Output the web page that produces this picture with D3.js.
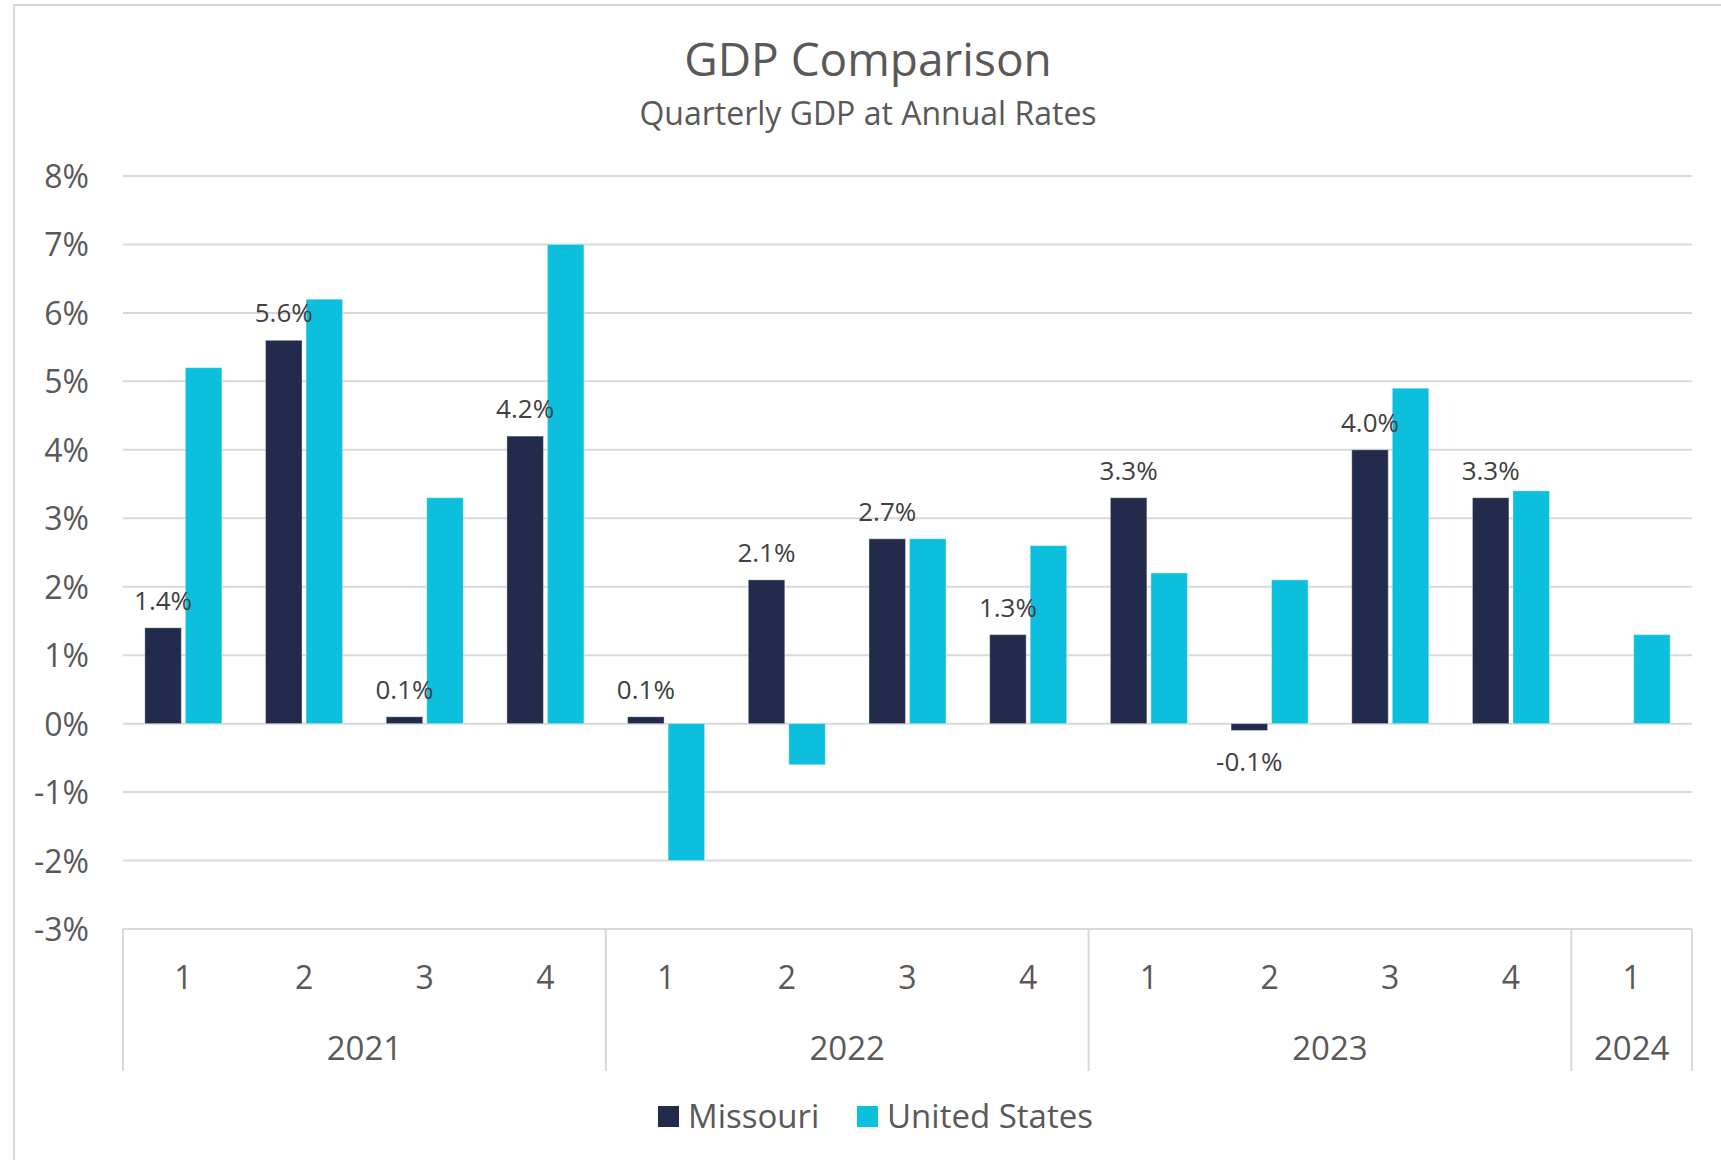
<!DOCTYPE html>
<html>
<head>
<meta charset="utf-8">
<script src="https://cdn.jsdelivr.net/npm/d3@7"></script>
<style>
    body { margin: 0; background: #fff; }
    svg { display: block; font-family: "Open Sans", sans-serif; }
</style>
</head>
<body>
<svg id="chart" width="1721" height="1160"></svg>
<script>
// chart data
const years = ["2021", "2021", "2021", "2021", "2022", "2022", "2022", "2022", "2023", "2023", "2023", "2023", "2024"];
const quarters = ["1", "2", "3", "4", "1", "2", "3", "4", "1", "2", "3", "4", "1"];
const missouri = [1.4, 5.6, 0.1, 4.2, 0.1, 2.1, 2.7, 1.3, 3.3, -0.1, 4.0, 3.3, null];
const unitedStates = [5.2, 6.2, 3.3, 7.0, -2.0, -0.6, 2.7, 2.6, 2.2, 2.1, 4.9, 3.4, 1.3];
const seriesNames = ["Missouri", "United States"];
const yTicks = [-3, -2, -1, 0, 1, 2, 3, 4, 5, 6, 7, 8];

const colors = { "Missouri": "#222b4b", "United States": "#0bbfdd" };
const gridColor = "#d9d9d9";
const textColor = "#595959";

const svg = d3.select("#chart");

// outer chart border
svg.append("rect")
    .attr("x", 14).attr("y", 5)
    .attr("width", 1740).attr("height", 1200)
    .attr("fill", "none")
    .attr("stroke", gridColor)
    .attr("stroke-width", 2);

// title
svg.append("text")
    .attr("x", 868).attr("y", 76)
    .attr("text-anchor", "middle")
    .attr("fill", textColor)
    .style("font-size", "46px")
    .text("GDP Comparison");

svg.append("text")
    .attr("x", 868).attr("y", 125)
    .attr("text-anchor", "middle")
    .attr("fill", textColor)
    .style("font-size", "32px")
    .text("Quarterly GDP at Annual Rates");

const plotLeft = 123, plotRight = 1692, plotTop = 176, plotBottom = 929;

const idx = d3.range(quarters.length);

const x = d3.scaleBand()
    .domain(idx)
    .range([plotLeft, plotRight])
    .padding(0);

const groupW = 77;
const x1 = d3.scaleBand()
    .domain(seriesNames)
    .range([(x.bandwidth() - groupW) / 2, (x.bandwidth() + groupW) / 2])
    .paddingInner(0.1);

const y = d3.scaleLinear()
    .domain([-3, 8])
    .range([plotBottom, plotTop]);

// gridlines
svg.append("g")
    .selectAll("line")
    .data(yTicks)
    .enter().append("line")
    .attr("x1", plotLeft).attr("x2", plotRight)
    .attr("y1", d => y(d)).attr("y2", d => y(d))
    .attr("stroke", gridColor)
    .attr("stroke-width", 2);

// y axis labels
const yAxis = svg.append("g")
    .attr("transform", "translate(" + (plotLeft - 34) + ",0)")
    .call(d3.axisLeft(y).tickValues(yTicks).tickSize(0).tickPadding(0).tickFormat(d => d + "%"));
yAxis.select(".domain").remove();
yAxis.selectAll("text")
    .attr("fill", textColor)
    .attr("dy", "0.36em")
    .style("font-family", "Open Sans, sans-serif")
    .style("font-size", "32px");

// bars
const rows = idx.map(i => ({ i: i, values: [
    { name: "Missouri", v: missouri[i] },
    { name: "United States", v: unitedStates[i] }
] }));

const groups = svg.append("g")
    .selectAll("g")
    .data(rows)
    .enter().append("g")
    .attr("transform", d => "translate(" + x(d.i) + ",0)");

groups.selectAll("rect")
    .data(d => d.values.filter(e => e.v !== null))
    .enter().append("rect")
    .attr("x", d => x1(d.name))
    .attr("width", x1.bandwidth())
    .attr("y", d => y(Math.max(0, d.v)))
    .attr("height", d => Math.abs(y(d.v) - y(0)))
    .attr("fill", d => colors[d.name])
    .attr("stroke", "#ffffff")
    .attr("stroke-opacity", 0.35)
    .attr("stroke-width", 1);

// Missouri data labels
groups.filter(d => missouri[d.i] !== null)
    .append("text")
    .attr("x", x1("Missouri") + x1.bandwidth() / 2)
    .attr("y", d => missouri[d.i] >= 0 ? y(missouri[d.i]) - 18 : y(missouri[d.i]) + 41)
    .attr("text-anchor", "middle")
    .attr("fill", "#404040")
    .style("font-size", "26px")
    .text(d => missouri[d.i].toFixed(1) + "%");

// category axis
svg.append("line")
    .attr("x1", plotLeft).attr("x2", plotRight)
    .attr("y1", plotBottom).attr("y2", plotBottom)
    .attr("stroke", gridColor).attr("stroke-width", 2);

svg.append("g")
    .selectAll("text")
    .data(idx)
    .enter().append("text")
    .attr("x", d => x(d) + x.bandwidth() / 2)
    .attr("y", 989)
    .attr("text-anchor", "middle")
    .attr("fill", textColor)
    .style("font-size", "32px")
    .text(d => quarters[d]);

// year groups
const yearList = Array.from(new Set(years));
const yearSpans = yearList.map(yr => {
    const members = idx.filter(i => years[i] === yr);
    return { year: yr, start: x(members[0]), end: x(members[members.length - 1]) + x.bandwidth() };
});

const seps = [plotLeft].concat(yearSpans.map(s => s.end));
svg.append("g")
    .selectAll("line")
    .data(seps)
    .enter().append("line")
    .attr("x1", d => d).attr("x2", d => d)
    .attr("y1", plotBottom).attr("y2", 1071)
    .attr("stroke", gridColor)
    .attr("stroke-width", 2);

svg.append("g")
    .selectAll("text")
    .data(yearSpans)
    .enter().append("text")
    .attr("x", d => (d.start + d.end) / 2)
    .attr("y", 1060)
    .attr("text-anchor", "middle")
    .attr("fill", textColor)
    .style("font-size", "33px")
    .text(d => d.year);

// legend
const legend = svg.append("g");
const legendX = [658, 857];
seriesNames.forEach((name, k) => {
    legend.append("rect")
        .attr("x", legendX[k]).attr("y", 1106)
        .attr("width", 21).attr("height", 21)
        .attr("fill", colors[name]);
    legend.append("text")
        .attr("x", legendX[k] + 30).attr("y", 1128)
        .attr("fill", textColor)
        .style("font-size", "33px")
        .text(name);
});
</script>
</body>
</html>
